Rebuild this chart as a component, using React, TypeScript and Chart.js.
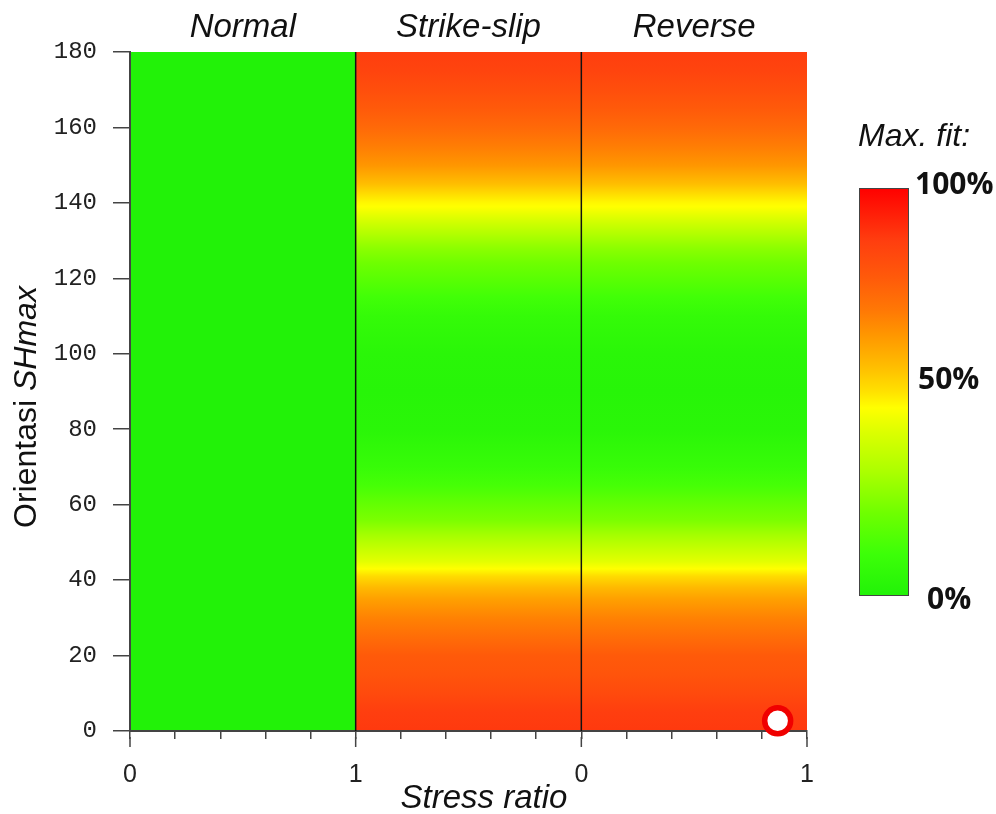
import React, { useEffect, useRef } from 'react';
import { Chart, registerables } from 'chart.js';

Chart.register(...registerables);

// ---------------- data ----------------
const panelTitles = ['Normal', 'Strike-slip', 'Reverse'];
const xTickLabels = ['0', '1', '0', '1'];
const yAxisTitle = ['Orientasi ', 'SHmax'];
const xAxisTitle = 'Stress ratio';
const legendTitle = 'Max. fit:';
const legendLabels = ['100%', '50%', '0%'];

// Normal regime: fit is 0% everywhere
const normalOrient = [0, 180];
const normalFit = [0, 0];

// Orientation SHmax (deg) and max. fit (0..1) for strike-slip and reverse regimes
const orientations = [0, 5, 10, 15, 20, 25, 30, 35, 38, 41, 43, 45, 48, 52, 56, 60, 65, 70, 80, 90, 100, 110, 115, 120, 124, 128, 132, 135, 137, 139, 140, 142, 145, 150, 155, 160, 165, 170, 175, 180];
const strikeSlipFit = [0.88, 0.87, 0.83, 0.80, 0.78, 0.73, 0.68, 0.62, 0.57, 0.51, 0.46, 0.41, 0.36, 0.29, 0.22, 0.18, 0.12, 0.08, 0.03, 0.02, 0.03, 0.07, 0.11, 0.16, 0.20, 0.25, 0.32, 0.38, 0.42, 0.46, 0.47, 0.50, 0.56, 0.64, 0.69, 0.74, 0.78, 0.82, 0.85, 0.87];
const reverseFit = [0.88, 0.87, 0.83, 0.80, 0.78, 0.73, 0.68, 0.62, 0.57, 0.51, 0.46, 0.41, 0.36, 0.29, 0.22, 0.18, 0.12, 0.08, 0.03, 0.02, 0.03, 0.07, 0.11, 0.16, 0.20, 0.25, 0.32, 0.38, 0.42, 0.46, 0.47, 0.50, 0.56, 0.64, 0.69, 0.74, 0.78, 0.82, 0.85, 0.87];

// Best-fit solution marker (x: 2..3 = reverse regime stress ratio 0..1)
const optimum = [{ x: 2.87, y: 2.7 }];

// colour map (fit -> rgb)
const cmapValues = [0.0, 0.1, 0.2, 0.3, 0.4, 0.46, 0.5, 0.56, 0.64, 0.7, 0.78, 0.87, 1.0];
const cmapColors: number[][] = [
  [34, 242, 8], [60, 255, 8], [110, 255, 0], [170, 255, 0], [220, 255, 0], [255, 255, 0],
  [255, 225, 0], [255, 190, 0], [255, 150, 0], [255, 120, 5], [255, 90, 10], [255, 62, 15], [255, 0, 0],
];

function colormap(v: number): string {
  const t = Math.max(0, Math.min(1, v));
  for (let i = 1; i < cmapValues.length; i++) {
    if (t <= cmapValues[i]) {
      const a = cmapValues[i - 1], b = cmapValues[i];
      const f = (t - a) / (b - a);
      const c0 = cmapColors[i - 1], c1 = cmapColors[i];
      const r = Math.round(c0[0] + (c1[0] - c0[0]) * f);
      const g = Math.round(c0[1] + (c1[1] - c0[1]) * f);
      const bl = Math.round(c0[2] + (c1[2] - c0[2]) * f);
      return `rgb(${r},${g},${bl})`;
    }
  }
  const c = cmapColors[cmapColors.length - 1];
  return `rgb(${c[0]},${c[1]},${c[2]})`;
}

const heatmapPlugin = {
  id: 'heatmap',
  beforeDraw(chart: any) {
    const { ctx } = chart;
    const x = chart.scales.x;
    const y = chart.scales.y;
    const panels = [
      { x0: 0, x1: 1, o: normalOrient, v: normalFit },
      { x0: 1, x1: 2, o: orientations, v: strikeSlipFit },
      { x0: 2, x1: 3, o: orientations, v: reverseFit },
    ];
    ctx.save();
    const yb = y.getPixelForValue(0);
    const yt = y.getPixelForValue(180);
    panels.forEach((p) => {
      const left = x.getPixelForValue(p.x0);
      const right = x.getPixelForValue(p.x1);
      const g = ctx.createLinearGradient(0, yb, 0, yt);
      p.o.forEach((o, i) => {
        g.addColorStop((y.getPixelForValue(o) - yb) / (yt - yb), colormap(p.v[i]));
      });
      ctx.fillStyle = g;
      ctx.fillRect(left, yt, right - left, yb - yt);
    });
    ctx.restore();
  },
  beforeDatasetsDraw(chart: any) {
    const { ctx } = chart;
    const x = chart.scales.x;
    const y = chart.scales.y;
    ctx.save();
    // panel separators
    ctx.strokeStyle = '#111';
    ctx.lineWidth = 1.5;
    [1, 2].forEach((v) => {
      const px = x.getPixelForValue(v);
      ctx.beginPath();
      ctx.moveTo(px, y.getPixelForValue(180));
      ctx.lineTo(px, y.getPixelForValue(0));
      ctx.stroke();
    });
    // longer major ticks on x axis
    ctx.strokeStyle = '#444';
    ctx.lineWidth = 1.5;
    [0, 1, 2, 3].forEach((v) => {
      const px = x.getPixelForValue(v);
      const by = y.getPixelForValue(0);
      ctx.beginPath();
      ctx.moveTo(px, by + 6);
      ctx.lineTo(px, by + 16);
      ctx.stroke();
    });
    ctx.restore();
  },
  afterDraw(chart: any) {
    const { ctx } = chart;
    const x = chart.scales.x;
    ctx.save();
    ctx.fillStyle = '#111';
    ctx.textBaseline = 'alphabetic';
    // panel titles
    ctx.font = 'italic 33px "Liberation Sans", Arial, sans-serif';
    ctx.textAlign = 'center';
    panelTitles.forEach((t, i) => {
      const cx = (x.getPixelForValue(i) + x.getPixelForValue(i + 1)) / 2;
      ctx.fillText(t, cx, 37);
    });
    // x axis title
    ctx.font = 'italic 33px "Liberation Sans", Arial, sans-serif';
    ctx.fillText(xAxisTitle, 484, 808);
    // y axis title (mixed styles)
    ctx.translate(36, 407);
    ctx.rotate(-Math.PI / 2);
    ctx.textAlign = 'left';
    const f1 = '32px "Liberation Sans", Arial, sans-serif';
    const f2 = 'italic 32px "Liberation Sans", Arial, sans-serif';
    ctx.font = f1;
    const w1 = ctx.measureText(yAxisTitle[0]).width;
    ctx.font = f2;
    const w2 = ctx.measureText(yAxisTitle[1]).width;
    const start = -(w1 + w2) / 2;
    ctx.font = f1;
    ctx.fillText(yAxisTitle[0], start, 0);
    ctx.font = f2;
    ctx.fillText(yAxisTitle[1], start + w1, 0);
    ctx.setTransform(1, 0, 0, 1, 0, 0);

    // legend
    ctx.font = 'italic 32px "Liberation Sans", Arial, sans-serif';
    ctx.textAlign = 'left';
    ctx.fillText(legendTitle, 858, 146);
    const cbL = 859, cbT = 188, cbW = 49, cbH = 407;
    const g = ctx.createLinearGradient(0, cbT + cbH, 0, cbT);
    cmapValues.forEach((v) => g.addColorStop(v, colormap(v)));
    ctx.fillStyle = g;
    ctx.fillRect(cbL, cbT, cbW, cbH);
    ctx.strokeStyle = '#444';
    ctx.lineWidth = 1;
    ctx.strokeRect(cbL + 0.5, cbT + 0.5, cbW, cbH);
    ctx.fillStyle = '#111';
    ctx.font = 'bold 30px "Open Sans", "Noto Sans", sans-serif';
    ctx.textBaseline = 'middle';
    const lx = [915, 918, 927];
    const ly = [185, 380, 600];
    legendLabels.forEach((t, i) => ctx.fillText(t, lx[i], ly[i]));
    ctx.restore();
  },
};

export default function App() {
  const ref = useRef<HTMLCanvasElement | null>(null);
  useEffect(() => {
    if (!ref.current) return;
    const chart = new Chart(ref.current, {
      type: 'scatter',
      data: {
        datasets: [
          {
            data: optimum,
            pointRadius: 13,
            pointHoverRadius: 13,
            pointBorderWidth: 5.5,
            borderWidth: 5.5,
            pointBorderColor: 'rgb(240,0,0)',
            borderColor: 'rgb(240,0,0)',
            pointBackgroundColor: '#ffffff',
            backgroundColor: '#ffffff',
            clip: false as any,
          } as any,
        ],
      },
      options: {
        responsive: false,
        animation: false,
        events: [],
        layout: { padding: { left: 0, top: 52, right: 189, bottom: 0 } },
        plugins: { legend: { display: false }, tooltip: { enabled: false } },
        scales: {
          x: {
            type: 'linear',
            min: 0,
            max: 3,
            afterFit: (s: any) => { s.height = 83; },
            grid: { drawOnChartArea: false, drawTicks: true, tickLength: 8, color: '#444', lineWidth: 1.5 },
            border: { display: true, color: '#444', width: 2 },
            ticks: {
              stepSize: 0.2,
              autoSkip: false,
              maxRotation: 0,
              padding: 21,
              color: '#222',
              font: { family: '"Liberation Sans", Arial, sans-serif', size: 25 },
              callback: (value: any) => {
                const v = Number(value);
                const r = Math.round(v);
                return Math.abs(v - r) < 1e-6 ? xTickLabels[r] : '';
              },
            },
          },
          y: {
            type: 'linear',
            min: 0,
            max: 180,
            afterFit: (s: any) => { s.width = 130; },
            grid: { drawOnChartArea: false, drawTicks: true, tickLength: 17, color: '#444', lineWidth: 1.5 },
            border: { display: true, color: '#444', width: 2 },
            ticks: {
              stepSize: 20,
              padding: 16,
              color: '#222',
              font: { family: '"Liberation Mono", "Courier New", monospace', size: 24 },
            },
          },
        },
      },
      plugins: [heatmapPlugin],
    });
    return () => chart.destroy();
  }, []);
  return (
    <div style={{ position: 'fixed', left: 0, top: 0, width: 996, height: 814, background: '#fff' }}>
      <canvas ref={ref} width={996} height={814} style={{ width: 996, height: 814, display: 'block' }} />
    </div>
  );
}
